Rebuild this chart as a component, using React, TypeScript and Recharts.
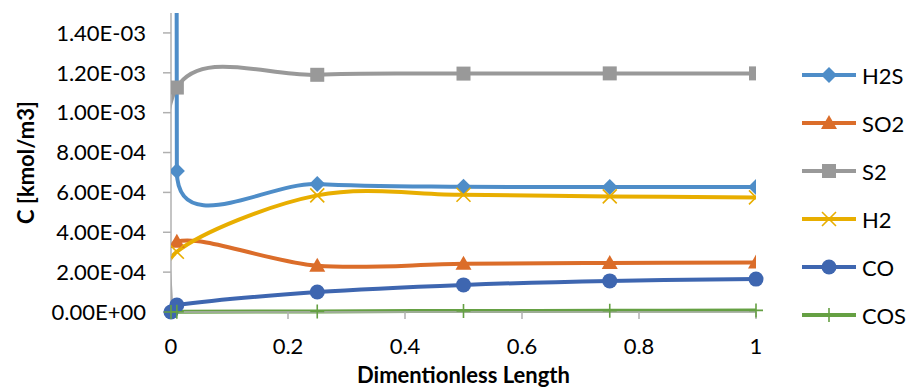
import React from "react"
import { LineChart, Line, XAxis, YAxis } from "recharts"

// dimensionless length positions
const positions = [0, 0.01, 0.25, 0.5, 0.75, 1]

// concentrations [kmol/m3]
const h2s = [1.0e-1, 7.07e-4, 6.42e-4, 6.28e-4, 6.27e-4, 6.27e-4]
const so2 = [0, 3.52e-4, 2.32e-4, 2.42e-4, 2.46e-4, 2.48e-4]
const s2 = [0, 1.126e-3, 1.19e-3, 1.196e-3, 1.197e-3, 1.197e-3]
const h2 = [0, 3.02e-4, 5.85e-4, 5.88e-4, 5.8e-4, 5.75e-4]
const co = [0, 3.5e-5, 1.0e-4, 1.36e-4, 1.56e-4, 1.65e-4]
const cos = [0, 1e-6, 3e-6, 5e-6, 6e-6, 8e-6]

const xTicks = [0, 0.2, 0.4, 0.6, 0.8, 1]
const yTicks = [0, 0.0002, 0.0004, 0.0006, 0.0008, 0.001, 0.0012, 0.0014]

// clipped: series whose smoothed curve leaves the plot area
const series = [
  { name: "H2S", values: h2s, color: "#4E8DC8", marker: "diamond", clipped: true },
  { name: "SO2", values: so2, color: "#DB6D2A", marker: "triangle", clipped: true },
  { name: "S2", values: s2, color: "#999999", marker: "square", clipped: true },
  { name: "H2", values: h2, color: "#E8AE00", marker: "x", clipped: true },
  { name: "CO", values: co, color: "#3E66B0", marker: "circle", clipped: false },
  { name: "COS", values: cos, color: "#65A043", marker: "plus", clipped: false },
]

const data = positions.map((x, i) => {
  const row: Record<string, number> = { x }
  series.forEach((s) => (row[s.name] = s.values[i]))
  return row
})

const FONT = "Lato, 'Open Sans', sans-serif"
const AXIS = "#B0B0B0"

// smoothing like the spreadsheet's "smoothed line": bezier through points,
// tangent parallel to neighbours, control arm capped at half the segment
function excelCurve(context: any) {
  let pts: number[][] = []
  return {
    areaStart() {},
    areaEnd() {},
    lineStart() {
      pts = []
    },
    point(x: number, y: number) {
      pts.push([+x, +y])
    },
    lineEnd() {
      const n = pts.length
      if (!n) return
      context.moveTo(pts[0][0], pts[0][1])
      for (let i = 0; i < n - 1; i++) {
        const p0 = pts[Math.max(i - 1, 0)]
        const p1 = pts[i]
        const p2 = pts[i + 1]
        const p3 = pts[Math.min(i + 2, n - 1)]
        const half = Math.hypot(p2[0] - p1[0], p2[1] - p1[1]) / 2
        let ax = (p2[0] - p0[0]) / 6
        let ay = (p2[1] - p0[1]) / 6
        const la = Math.hypot(ax, ay)
        if (la > half) {
          ax *= half / la
          ay *= half / la
        }
        let bx = (p3[0] - p1[0]) / 6
        let by = (p3[1] - p1[1]) / 6
        const lb = Math.hypot(bx, by)
        if (lb > half) {
          bx *= half / lb
          by *= half / lb
        }
        context.bezierCurveTo(p1[0] + ax, p1[1] + ay, p2[0] - bx, p2[1] - by, p2[0], p2[1])
      }
    },
  }
}

function Marker({ shape, cx, cy, color }: { shape: string; cx: number; cy: number; color: string }) {
  switch (shape) {
    case "diamond":
      return <polygon points={`${cx},${cy - 8} ${cx + 8},${cy} ${cx},${cy + 8} ${cx - 8},${cy}`} fill={color} />
    case "triangle":
      return <polygon points={`${cx},${cy - 8} ${cx + 8},${cy + 6} ${cx - 8},${cy + 6}`} fill={color} />
    case "square":
      return <rect x={cx - 7} y={cy - 7} width={14} height={14} fill={color} />
    case "x":
      return (
        <path
          d={`M${cx - 7},${cy - 7}L${cx + 7},${cy + 7}M${cx + 7},${cy - 7}L${cx - 7},${cy + 7}`}
          stroke={color}
          strokeWidth={1.6}
          fill="none"
        />
      )
    case "circle":
      return <circle cx={cx} cy={cy} r={7.5} fill={color} />
    default:
      return (
        <path
          d={`M${cx},${cy - 7}L${cx},${cy + 7}M${cx - 7},${cy}L${cx + 7},${cy}`}
          stroke={color}
          strokeWidth={1.6}
          fill="none"
        />
      )
  }
}

function sci(v: number) {
  if (v === 0) return "0.00E+00"
  const e = Math.floor(Math.log10(v) + 1e-9)
  const m = v / Math.pow(10, e)
  return `${m.toFixed(2)}E${e < 0 ? "-" : "+"}${String(Math.abs(e)).padStart(2, "0")}`
}

function Legend() {
  return (
    <svg width={907} height={389} style={{ position: "absolute", left: 0, top: 0, pointerEvents: "none" }}>
      {series.map((s, i) => {
        const y = 75 + i * 48
        return (
          <g key={s.name}>
            <line x1={802} x2={856} y1={y} y2={y} stroke={s.color} strokeWidth={4} />
            <Marker shape={s.marker} cx={829} cy={y} color={s.color} />
            <text x={862} y={y} dominantBaseline="central" fontSize={22} fontFamily={FONT} fill="#000">
              {s.name}
            </text>
          </g>
        )
      })}
    </svg>
  )
}

export default function App() {
  return (
    <div style={{ position: "absolute", left: 0, top: 0, width: 907, height: 389, fontFamily: FONT, background: "#fff" }}>
      <LineChart width={907} height={389} data={data} margin={{ top: 13, right: 151, bottom: 47, left: 0 }}>
        <XAxis
          dataKey="x"
          type="number"
          domain={[0, 1]}
          ticks={xTicks}
          allowDataOverflow
          height={30}
          tickSize={7}
          tickMargin={19}
          axisLine={{ stroke: AXIS, strokeWidth: 1.5 }}
          tickLine={{ stroke: AXIS, strokeWidth: 1.5 }}
          tick={{ fontSize: 22, fill: "#000", fontFamily: FONT }}
          label={{
            content: ({ viewBox }: any) => (
              <text
                x={viewBox.x + viewBox.width / 2}
                y={viewBox.y + 62}
                textAnchor="middle"
                dominantBaseline="central"
                fontSize={22}
                fontWeight="bold"
                fontFamily={FONT}
                fill="#000"
              >
                Dimentionless Length
              </text>
            ),
          }}
        />
        <XAxis xAxisId="free" dataKey="x" type="number" domain={[0, 1]} hide />
        <YAxis
          type="number"
          domain={[0, 0.0015]}
          ticks={yTicks}
          allowDataOverflow
          width={171}
          tickSize={8}
          tickMargin={17}
          tickFormatter={sci}
          axisLine={{ stroke: AXIS, strokeWidth: 1.5 }}
          tickLine={{ stroke: AXIS, strokeWidth: 1.5 }}
          tick={{ fontSize: 22, fill: "#000", fontFamily: FONT }}
          label={{
            content: ({ viewBox }: any) => {
              const cx = viewBox.x + 25
              const cy = viewBox.y + viewBox.height / 2
              return (
                <text
                  x={cx}
                  y={cy}
                  transform={`rotate(-90 ${cx} ${cy})`}
                  textAnchor="middle"
                  dominantBaseline="central"
                  fontSize={22}
                  fontWeight="bold"
                  fontFamily={FONT}
                  fill="#000"
                >
                  C [kmol/m3]
                </text>
              )
            },
          }}
        />
        <YAxis yAxisId="free" type="number" domain={[0, 0.0015]} hide />
        {series.map((s) => (
          <Line
            key={s.name}
            dataKey={s.name}
            xAxisId={s.clipped ? 0 : "free"}
            yAxisId={s.clipped ? 0 : "free"}
            type={excelCurve as any}
            stroke={s.color}
            strokeWidth={4}
            isAnimationActive={false}
            activeDot={false}
            dot={(p: any) =>
              p.cx == null || p.cy == null ? (
                <g key={`${s.name}-${p.index}`} />
              ) : (
                <Marker key={`${s.name}-${p.index}`} shape={s.marker} cx={p.cx} cy={p.cy} color={s.color} />
              )
            }
          />
        ))}
      </LineChart>
      <Legend />
    </div>
  )
}
